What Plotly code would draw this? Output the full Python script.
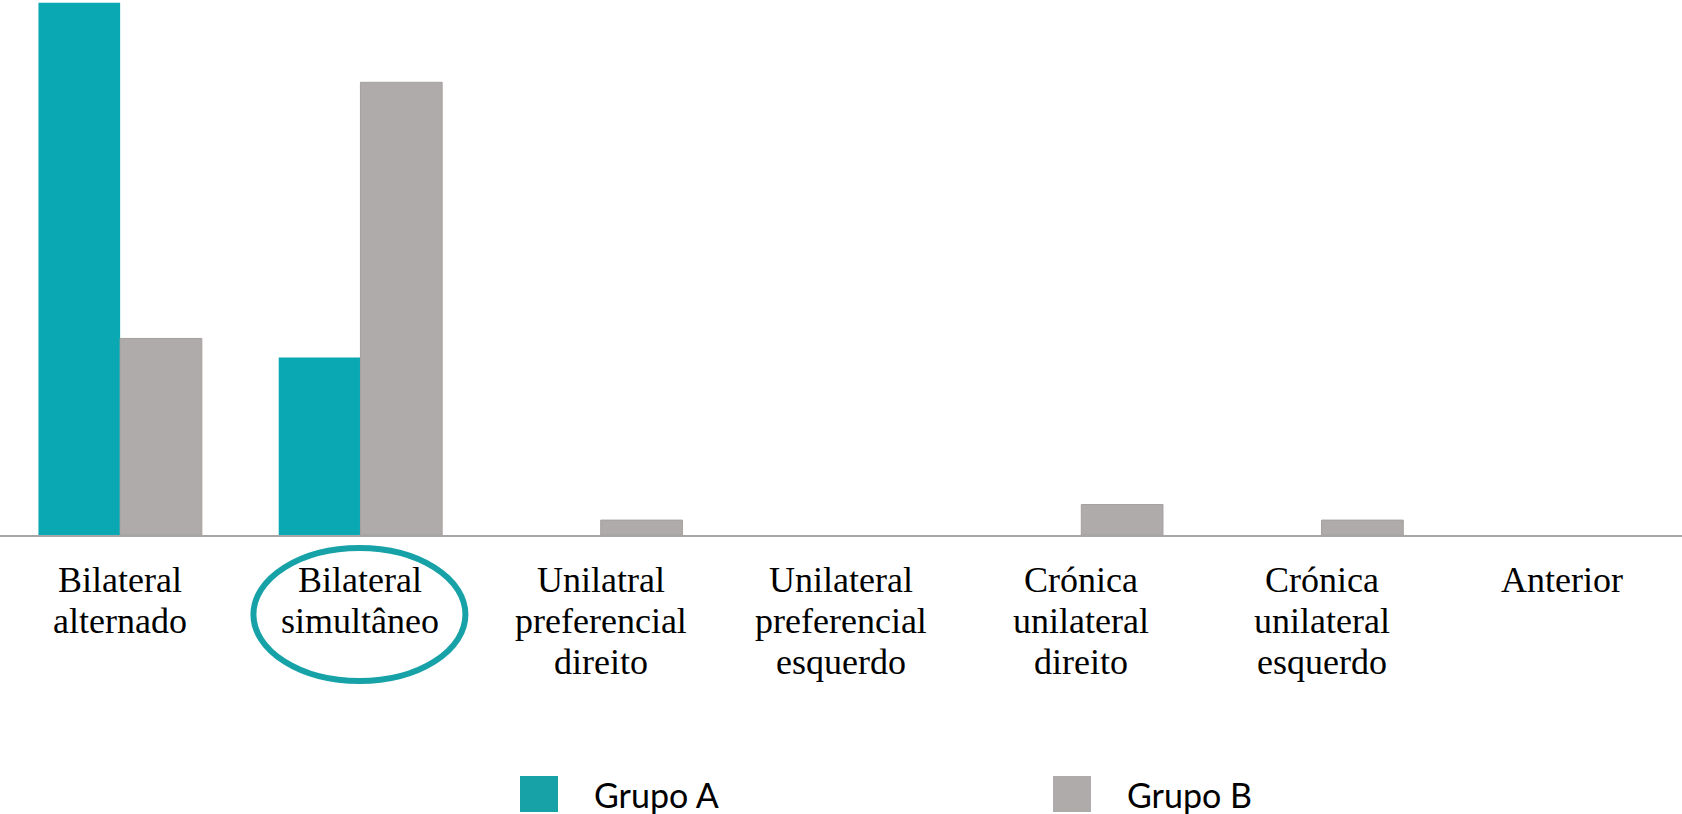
import plotly.graph_objects as go

# Share of eyes per occlusion pattern (%)
categories = [
    "Bilateral<br>alternado",
    "Bilateral<br>simultâneo",
    "Unilatral<br>preferencial<br>direito",
    "Unilateral<br>preferencial<br>esquerdo",
    "Crónica<br>unilateral<br>direito",
    "Crónica<br>unilateral<br>esquerdo",
    "Anterior",
]
grupo_a = [75.0, 25.0, 0, 0, 0, 0, 0]
grupo_b = [27.7, 63.8, 2.1, 0, 4.3, 2.1, 0]
series_names = ["Grupo A", "Grupo B"]

TEAL = "#09a8b3"
TEAL_LEGEND = "#17a2a8"
GRAY = "#aeabaa"
W, H = 1682, 814
PLOT_BOTTOM = 535  # pixel row of the category axis line

fig = go.Figure()
fig.add_trace(go.Bar(x=categories, y=grupo_a, name=series_names[0],
                     marker=dict(color=TEAL, line=dict(width=0))))
# thin edge only on bars that have height
fig.add_trace(go.Bar(x=categories, y=grupo_b, name=series_names[1],
                     marker=dict(color=GRAY,
                                 line=dict(color="#a3a09f",
                                           width=[1 if v > 0 else 0 for v in grupo_b]))))

fig.update_layout(
    width=W, height=H,
    margin=dict(l=0, r=0, t=0, b=H - PLOT_BOTTOM),
    paper_bgcolor="white", plot_bgcolor="white",
    barmode="group", bargap=0.32, bargroupgap=0,
    showlegend=False,
)
fig.update_xaxes(showticklabels=False, showgrid=False, ticks="",
                 showline=True, linecolor="#a6a6a6", linewidth=2,
                 range=[-0.5, len(categories) - 0.5])
fig.update_yaxes(visible=False, range=[0, 75.4])


def py(px):
    """Pixel row -> paper y coordinate of the plot area."""
    return (PLOT_BOTTOM - px) / PLOT_BOTTOM


# Category labels, one annotation per line for tight line spacing
LINE0, LINE_STEP = 580, 41
for i, cat in enumerate(categories):
    for j, line in enumerate(cat.split("<br>")):
        fig.add_annotation(
            x=i, y=py(LINE0 + j * LINE_STEP), xref="x", yref="paper",
            text=line, showarrow=False, xanchor="center", yanchor="middle",
            font=dict(family="Liberation Serif", size=36, color="black"),
        )

# Highlight ring around the second category
fig.add_shape(type="circle", xref="x", yref="paper",
              x0=1 - 107 / 240.3, x1=1 + 105 / 240.3,
              y0=py(681), y1=py(548),
              line=dict(color=TEAL_LEGEND, width=6), fillcolor="rgba(0,0,0,0)")

# Legend drawn as swatches with labels
legend_items = [(series_names[0], TEAL_LEGEND, 520), (series_names[1], GRAY, 1053)]
for name, color, x0 in legend_items:
    fig.add_shape(type="rect", xref="paper", yref="paper",
                  x0=x0 / W, x1=(x0 + 38) / W, y0=py(812), y1=py(776),
                  fillcolor=color, line=dict(width=0))
    fig.add_annotation(x=(x0 + 72) / W, y=py(794), xref="paper", yref="paper",
                       text=name, showarrow=False, xanchor="left", yanchor="middle",
                       font=dict(family="Lato", size=34, color="black"))

fig.write_html("out.html")
